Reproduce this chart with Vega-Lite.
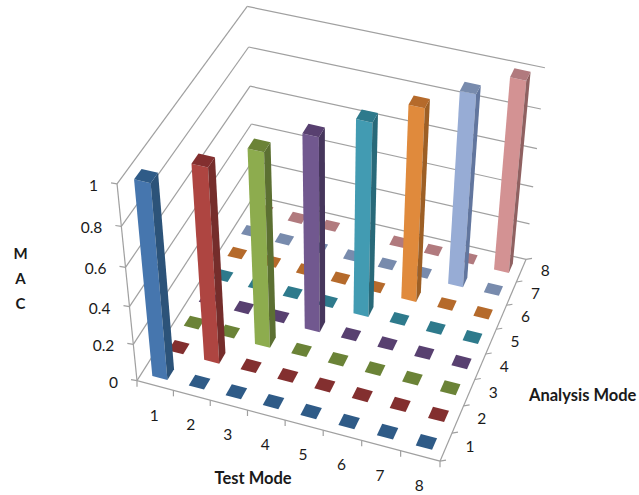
{
"$schema":"https://vega.github.io/schema/vega-lite/v6.json",
"width":639,"height":495,"padding":0,"autosize":{"type":"fit","contains":"padding"},
"background":"white","view":{"stroke":null},
"datasets":{
"macTicks":[{"mac":0},{"mac":0.2},{"mac":0.4},{"mac":0.6},{"mac":0.8},{"mac":1}],
"boundaries":[{"b":0},{"b":1},{"b":2},{"b":3},{"b":4},{"b":5},{"b":6},{"b":7},{"b":8}],
"modes":[{"mode":1},{"mode":2},{"mode":3},{"mode":4},{"mode":5},{"mode":6},{"mode":7},{"mode":8}],
"cells":[
{"test":1,"analysis":1,"mac":1},{"test":1,"analysis":2,"mac":0},{"test":1,"analysis":3,"mac":0},{"test":1,"analysis":4,"mac":0},{"test":1,"analysis":5,"mac":0},{"test":1,"analysis":6,"mac":0},{"test":1,"analysis":7,"mac":0},{"test":1,"analysis":8,"mac":0},
{"test":2,"analysis":1,"mac":0},{"test":2,"analysis":2,"mac":1},{"test":2,"analysis":3,"mac":0},{"test":2,"analysis":4,"mac":0},{"test":2,"analysis":5,"mac":0},{"test":2,"analysis":6,"mac":0},{"test":2,"analysis":7,"mac":0},{"test":2,"analysis":8,"mac":0},
{"test":3,"analysis":1,"mac":0},{"test":3,"analysis":2,"mac":0},{"test":3,"analysis":3,"mac":1},{"test":3,"analysis":4,"mac":0},{"test":3,"analysis":5,"mac":0},{"test":3,"analysis":6,"mac":0},{"test":3,"analysis":7,"mac":0},{"test":3,"analysis":8,"mac":0},
{"test":4,"analysis":1,"mac":0},{"test":4,"analysis":2,"mac":0},{"test":4,"analysis":3,"mac":0},{"test":4,"analysis":4,"mac":1},{"test":4,"analysis":5,"mac":0},{"test":4,"analysis":6,"mac":0},{"test":4,"analysis":7,"mac":0},{"test":4,"analysis":8,"mac":0},
{"test":5,"analysis":1,"mac":0},{"test":5,"analysis":2,"mac":0},{"test":5,"analysis":3,"mac":0},{"test":5,"analysis":4,"mac":0},{"test":5,"analysis":5,"mac":1},{"test":5,"analysis":6,"mac":0},{"test":5,"analysis":7,"mac":0},{"test":5,"analysis":8,"mac":0},
{"test":6,"analysis":1,"mac":0},{"test":6,"analysis":2,"mac":0},{"test":6,"analysis":3,"mac":0},{"test":6,"analysis":4,"mac":0},{"test":6,"analysis":5,"mac":0},{"test":6,"analysis":6,"mac":1},{"test":6,"analysis":7,"mac":0},{"test":6,"analysis":8,"mac":0},
{"test":7,"analysis":1,"mac":0},{"test":7,"analysis":2,"mac":0},{"test":7,"analysis":3,"mac":0},{"test":7,"analysis":4,"mac":0},{"test":7,"analysis":5,"mac":0},{"test":7,"analysis":6,"mac":0},{"test":7,"analysis":7,"mac":1},{"test":7,"analysis":8,"mac":0},
{"test":8,"analysis":1,"mac":0},{"test":8,"analysis":2,"mac":0},{"test":8,"analysis":3,"mac":0},{"test":8,"analysis":4,"mac":0},{"test":8,"analysis":5,"mac":0},{"test":8,"analysis":6,"mac":0},{"test":8,"analysis":7,"mac":0},{"test":8,"analysis":8,"mac":1}
]},
"layer":[
{"data":{"name":"macTicks"},"transform":[
{"calculate":"1+0.12772-0.0946*datum.mac","as":"w"},
{"calculate":"(137-31.03*datum.mac)/(1-0.0946*datum.mac)","as":"x1"},
{"calculate":"(383-215.5*datum.mac)/(1-0.0946*datum.mac)","as":"y1"},
{"calculate":"(149.44+137-31.03*datum.mac)/datum.w","as":"x2"},
{"calculate":"(-160.84+383-215.5*datum.mac)/datum.w","as":"y2"}],
"mark":{"type":"rule","stroke":"#a0a0a0","strokeWidth":1.2},
"encoding":{"x":{"field":"x1","type":"quantitative","scale":{"domain":[0,639],"nice":false,"zero":false},"axis":null},"y":{"field":"y1","type":"quantitative","scale":{"domain":[495,0],"nice":false,"zero":false},"axis":null},"x2":{"field":"x2"},"y2":{"field":"y2"}}},
{"data":{"name":"macTicks"},"transform":[
{"calculate":"1+0.12772-0.0946*datum.mac","as":"w"},
{"calculate":"(149.44+137-31.03*datum.mac)/datum.w","as":"x1"},
{"calculate":"(-160.84+383-215.5*datum.mac)/datum.w","as":"y1"},
{"calculate":"1-0.04348+0.12772-0.0946*datum.mac","as":"w2"},
{"calculate":"(283.87+149.44+137-31.03*datum.mac)/datum.w2","as":"x2"},
{"calculate":"(60.83-160.84+383-215.5*datum.mac)/datum.w2","as":"y2"}],
"mark":{"type":"rule","stroke":"#a0a0a0","strokeWidth":1.2},
"encoding":{"x":{"field":"x1","type":"quantitative"},"y":{"field":"y1","type":"quantitative"},"x2":{"field":"x2"},"y2":{"field":"y2"}}},
{"data":{"name":"macTicks"},"transform":[
{"filter":"datum.mac==1"},
{"calculate":"(137-31.03*datum.mac)/(1-0.0946*datum.mac)","as":"x1"},
{"calculate":"(383-215.5*datum.mac)/(1-0.0946*datum.mac)","as":"y1"},
{"calculate":"137","as":"x2"},{"calculate":"383","as":"y2"}],
"mark":{"type":"rule","stroke":"#a0a0a0","strokeWidth":1.2},
"encoding":{"x":{"field":"x1","type":"quantitative"},"y":{"field":"y1","type":"quantitative"},"x2":{"field":"x2"},"y2":{"field":"y2"}}},
{"data":{"name":"boundaries"},"transform":[
{"filter":"datum.b==0"},
{"calculate":"137","as":"x1"},{"calculate":"383","as":"y1"},
{"calculate":"(283.87+137)/(1-0.04348)","as":"x2"},{"calculate":"(60.83+383)/(1-0.04348)","as":"y2"}],
"mark":{"type":"rule","stroke":"#a0a0a0","strokeWidth":1.2},
"encoding":{"x":{"field":"x1","type":"quantitative"},"y":{"field":"y1","type":"quantitative"},"x2":{"field":"x2"},"y2":{"field":"y2"}}},
{"data":{"name":"macTicks"},"transform":[
{"calculate":"(137-31.03*datum.mac)/(1-0.0946*datum.mac)","as":"x1"},
{"calculate":"(383-215.5*datum.mac)/(1-0.0946*datum.mac)","as":"y1"},
{"calculate":"datum.x1-6","as":"x2"},{"calculate":"datum.y1-1","as":"y2"}],
"mark":{"type":"rule","stroke":"#a0a0a0","strokeWidth":1.2},
"encoding":{"x":{"field":"x1","type":"quantitative"},"y":{"field":"y1","type":"quantitative"},"x2":{"field":"x2"},"y2":{"field":"y2"}}},
{"data":{"name":"boundaries"},"transform":[
{"calculate":"datum.b/8","as":"u"},
{"calculate":"1-0.04348*datum.u","as":"w"},
{"calculate":"(283.87*datum.u+137)/datum.w","as":"x1"},
{"calculate":"(60.83*datum.u+383)/datum.w","as":"y1"},
{"calculate":"datum.x1","as":"x2"},{"calculate":"datum.y1+6","as":"y2"}],
"mark":{"type":"rule","stroke":"#a0a0a0","strokeWidth":1.2},
"encoding":{"x":{"field":"x1","type":"quantitative"},"y":{"field":"y1","type":"quantitative"},"x2":{"field":"x2"},"y2":{"field":"y2"}}},
{"data":{"name":"boundaries"},"transform":[
{"calculate":"datum.b/8","as":"v"},
{"calculate":"1-0.04348+0.12772*datum.v","as":"w"},
{"calculate":"(283.87+149.44*datum.v+137)/datum.w","as":"x1"},
{"calculate":"(60.83-160.84*datum.v+383)/datum.w","as":"y1"},
{"calculate":"datum.x1+6","as":"x2"},{"calculate":"datum.y1-1","as":"y2"}],
"mark":{"type":"rule","stroke":"#a0a0a0","strokeWidth":1.2},
"encoding":{"x":{"field":"x1","type":"quantitative"},"y":{"field":"y1","type":"quantitative"},"x2":{"field":"x2"},"y2":{"field":"y2"}}},
{"data":{"name":"boundaries"},"transform":[
{"filter":"datum.b==8"},
{"calculate":"datum.b/8","as":"v"},
{"calculate":"1-0.04348+0.12772*datum.v","as":"w"},
{"calculate":"(283.87+149.44*datum.v+137)/datum.w","as":"x1"},
{"calculate":"(60.83-160.84*datum.v+383)/datum.w","as":"y1"},
{"calculate":"(283.87+137)/(1-0.04348)","as":"x2"},{"calculate":"(60.83+383)/(1-0.04348)","as":"y2"}],
"mark":{"type":"rule","stroke":"#a0a0a0","strokeWidth":1.2},
"encoding":{"x":{"field":"x1","type":"quantitative"},"y":{"field":"y1","type":"quantitative"},"x2":{"field":"x2"},"y2":{"field":"y2"}}},
{"data":{"name":"cells"},
"transform":[
{"calculate":"['top','front','side']","as":"face"},{"flatten":["face"]},
{"filter":"datum.face=='top'||datum.mac>=0.5"},
{"calculate":"[0,1,2,3]","as":"corner"},{"flatten":["corner"]},
{"calculate":"(datum.test-0.5)/8","as":"u0"},
{"calculate":"(datum.analysis-0.5)/8","as":"v0"},
{"calculate":"[-1,1,1,-1][datum.corner]","as":"du"},
{"calculate":"[-1,-1,1,1][datum.corner]","as":"dv"},
{"calculate":"datum.face=='side'?datum.u0+0.026:datum.u0+0.026*datum.du","as":"u"},
{"calculate":"datum.face=='top'?datum.v0+0.026*datum.dv:(datum.face=='front'?datum.v0-0.026:datum.v0+0.026*datum.du)","as":"v"},
{"calculate":"datum.face=='top'?datum.mac:[0,0,datum.mac,datum.mac][datum.corner]","as":"z"},
{"calculate":"1-0.04348*datum.u+0.12772*datum.v-0.0946*datum.z","as":"w"},
{"calculate":"(283.87*datum.u+149.44*datum.v+137-31.03*datum.z)/datum.w","as":"px"},
{"calculate":"(60.83*datum.u-160.84*datum.v+383-215.5*datum.z)/datum.w","as":"py"},
{"calculate":"datum.face+datum.analysis","as":"key"},
{"calculate":"datum.test+'-'+datum.analysis","as":"cell"}],
"encoding":{
"x":{"field":"px","type":"quantitative"},
"y":{"field":"py","type":"quantitative"},
"order":{"field":"corner","type":"quantitative"},
"detail":{"field":"cell","type":"nominal"},
"color":{"field":"key","type":"nominal","legend":null,"scale":{
"domain":["front1","front2","front3","front4","front5","front6","front7","front8","side1","side2","side3","side4","side5","side6","side7","side8","top1","top2","top3","top4","top5","top6","top7","top8"],
"range":["#4676AE","#AE4541","#8DAC4E","#71588F","#429BB2","#E08A3C","#97ACD5","#D39293","#2C5379","#752D2B","#5C7032","#46365C","#286979","#9D5F25","#62769E","#8F6161","#2F5B87","#832F2F","#6B8337","#584070","#2E7A8C","#B56A2B","#788BAD","#B17A7E"]}}},
"layer":[
{"transform":[{"filter":"datum.face=='top'&&datum.mac<0.5"}],"mark":{"type":"line","filled":true,"interpolate":"linear-closed"}},
{"transform":[{"filter":"datum.face=='front'"}],"mark":{"type":"line","filled":true,"interpolate":"linear-closed"}},
{"transform":[{"filter":"datum.face=='side'"}],"mark":{"type":"line","filled":true,"interpolate":"linear-closed"}},
{"transform":[{"filter":"datum.face=='top'&&datum.mac>=0.5"}],"mark":{"type":"line","filled":true,"interpolate":"linear-closed"}}
]},
{"data":{"name":"macTicks"},"transform":[
{"calculate":"(137-31.03*datum.mac)/(1-0.0946*datum.mac)","as":"x1"},
{"calculate":"(383-215.5*datum.mac)/(1-0.0946*datum.mac)","as":"y1"}],
"mark":{"type":"text","align":"right","baseline":"middle","dx":-19,"dy":2,"font":"Lato","fontSize":15.5,"color":"#1a1a1a"},
"encoding":{"x":{"field":"x1","type":"quantitative"},"y":{"field":"y1","type":"quantitative"},"text":{"field":"mac","type":"quantitative"}}},
{"data":{"name":"modes"},"transform":[
{"calculate":"(datum.mode-0.5)/8","as":"u"},
{"calculate":"1-0.04348*datum.u","as":"w"},
{"calculate":"(283.87*datum.u+137)/datum.w","as":"x1"},
{"calculate":"(60.83*datum.u+383)/datum.w","as":"y1"}],
"mark":{"type":"text","align":"center","baseline":"middle","dx":-1,"dy":30,"font":"Lato","fontSize":15.5,"color":"#1a1a1a"},
"encoding":{"x":{"field":"x1","type":"quantitative"},"y":{"field":"y1","type":"quantitative"},"text":{"field":"mode","type":"quantitative"}}},
{"data":{"name":"modes"},"transform":[
{"calculate":"(datum.mode-0.5)/8","as":"v"},
{"calculate":"1-0.04348+0.12772*datum.v","as":"w"},
{"calculate":"(283.87+149.44*datum.v+137)/datum.w","as":"x1"},
{"calculate":"(60.83-160.84*datum.v+383)/datum.w","as":"y1"}],
"mark":{"type":"text","align":"center","baseline":"middle","dx":24,"font":"Lato","fontSize":15.5,"color":"#1a1a1a"},
"encoding":{"x":{"field":"x1","type":"quantitative"},"y":{"field":"y1","type":"quantitative"},"text":{"field":"mode","type":"quantitative"}}},
{"data":{"values":[{"title":"Test Mode"}]},"transform":[
{"calculate":"(283.87*0.5+137)/(1-0.04348*0.5)","as":"x1"},
{"calculate":"(60.83*0.5+383)/(1-0.04348*0.5)","as":"y1"}],
"mark":{"type":"text","align":"center","baseline":"middle","dx":-32,"dy":59,"font":"Lato","fontWeight":"bold","fontSize":16.5,"color":"#1a1a1a"},
"encoding":{"x":{"field":"x1","type":"quantitative"},"y":{"field":"y1","type":"quantitative"},"text":{"field":"title","type":"nominal"}}},
{"data":{"values":[{"title":"Analysis Mode"}]},"transform":[
{"calculate":"(283.87+149.44*0.5+137)/(1-0.04348+0.12772*0.5)","as":"x1"},
{"calculate":"(60.83-160.84*0.5+383)/(1-0.04348+0.12772*0.5)","as":"y1"}],
"mark":{"type":"text","align":"center","baseline":"middle","dx":97,"dy":42,"font":"Lato","fontWeight":"bold","fontSize":16.5,"color":"#1a1a1a"},
"encoding":{"x":{"field":"x1","type":"quantitative"},"y":{"field":"y1","type":"quantitative"},"text":{"field":"title","type":"nominal"}}},
{"data":{"values":[{"title":"M"},{"title":"A"},{"title":"C"}]},"transform":[
{"calculate":"(137-31.03*0.5)/(1-0.0946*0.5)","as":"x1"},
{"calculate":"(383-215.5*0.5)/(1-0.0946*0.5)","as":"y1"},
{"calculate":"{'M':-1,'A':0,'C':1}[datum.title]*25","as":"off"},
{"calculate":"datum.y1+datum.off","as":"y3"}],
"mark":{"type":"text","align":"center","baseline":"middle","dx":-107,"dy":-8,"font":"Lato","fontWeight":"bold","fontSize":15,"color":"#1a1a1a"},
"encoding":{"x":{"field":"x1","type":"quantitative"},"y":{"field":"y3","type":"quantitative"},"text":{"field":"title","type":"nominal"}}}
]
}
